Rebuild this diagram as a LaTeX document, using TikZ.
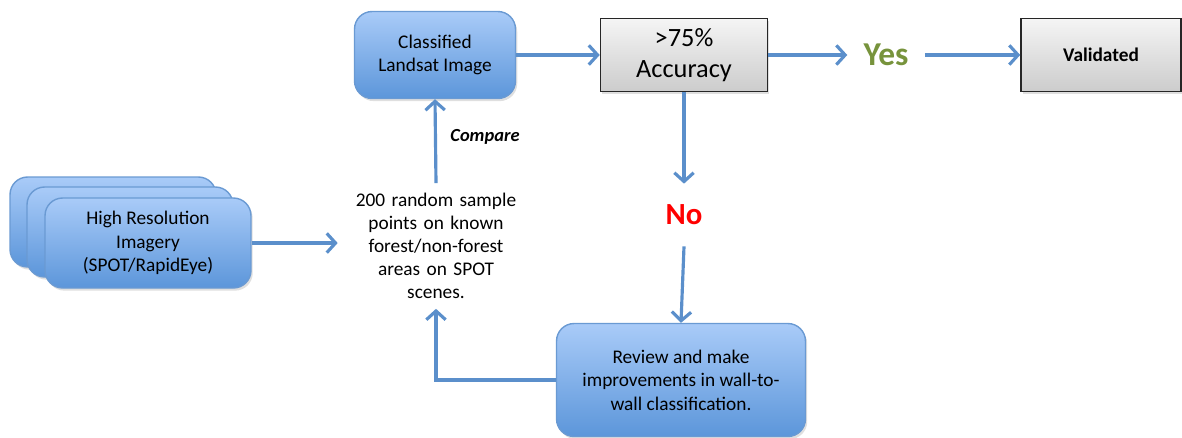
\documentclass[tikz,border=0pt]{standalone}
\usepackage{fontspec}
\setmainfont{Carlito}
\usetikzlibrary{positioning}
\usetikzlibrary{calc}
\usetikzlibrary{arrows.meta}
\usetikzlibrary{shadows}
\definecolor{flowblue}{HTML}{5B8FCB}
\definecolor{boxtop}{HTML}{A9CBF8}
\definecolor{boxbot}{HTML}{5C96DA}
\definecolor{boxline}{HTML}{6A9AD3}
\definecolor{yesgreen}{HTML}{77933C}
\tikzset{
  softshadow/.style={drop shadow={opacity=0.25, shadow xshift=1pt, shadow yshift=-1.5pt}},
  bluebox/.style={draw=boxline, line width=0.8pt, rounded corners=10pt,
    top color=boxtop, bottom color=boxbot, align=center, inner sep=0pt,
    font=\fontsize{11}{13.3}\selectfont, softshadow},
  graybox/.style={draw=black!85, line width=0.9pt, top color=black!4,
    bottom color=black!20, align=center, inner sep=0pt, softshadow},
  flow/.style={draw=flowblue, line width=1.8pt,
    -{Straight Barb[length=5pt,width=11pt,line width=1.8pt]}},
}

\begin{document}
\begin{tikzpicture}[x=0.02cm, y=-0.02cm]
    \useasboundingbox (0,0) rectangle (1182,437);

    % stacked imagery cards
    \foreach \z/\xx/\yy in {1/113/222,2/130/232,3/148/243} {
      \node[bluebox, minimum width=4.12cm, minimum height=1.8cm] (hires\z) at (\xx,\yy) {};
    }
    \node[font=\fontsize{11}{13.3}\selectfont, align=center] at (hires3) {High Resolution\\Imagery\\(SPOT/RapidEye)};

    \node[align=center, text width=3.4cm, inner xsep=0.26cm, inner ysep=0.2cm,
      font=\fontsize{11}{13}\selectfont] (sample) at (436,246)
      {200 random sample\\points on known\\forest/non-forest\\areas on SPOT\\scenes.};

    \node[bluebox, minimum width=3.22cm, minimum height=1.74cm] (classified) at (435,55) {Classified\\Landsat Image};
    \node[graybox, minimum width=3.34cm, minimum height=1.46cm,
      font=\fontsize{15}{18}\selectfont] (acc) at (684,55) {>75\%\\Accuracy};
    \node[font=\fontsize{19}{22}\selectfont\bfseries, text=yesgreen, inner xsep=0.32cm] (yes) at (886,55) {Yes};
    \node[graybox, minimum width=3.2cm, minimum height=1.46cm,
      font=\fontsize{11}{13}\selectfont\bfseries] (valid) at (1101,55) {Validated};

    \node[font=\fontsize{17.5}{20}\selectfont\bfseries, text=red, inner sep=0pt,
      minimum height=1.24cm] (no) at (684,215) {No};
    \node[bluebox, minimum width=4.98cm, minimum height=2.26cm] (review) at (681,380)
      {Review and make\\improvements in wall-to-\\wall classification.};

    \node[font=\fontsize{10.5}{12}\selectfont\bfseries\itshape] (compare) at (485,137) {Compare};

    \draw[flow] (hires3.east) -- (hires3.east -| sample.west);
    \draw[flow] (sample.north) -- (classified.south);
    \draw[flow] (classified.east) -- (acc.west);
    \draw[flow] (acc.east) -- (yes.west);
    \draw[flow] (yes.east) -- (valid.west);
    \draw[flow] (acc.south) -- (no.north);
    \draw[flow] (no.south) -- (review.north);
    \draw[flow] (review.west) -| (sample.south);
  \end{tikzpicture}
\end{document}
